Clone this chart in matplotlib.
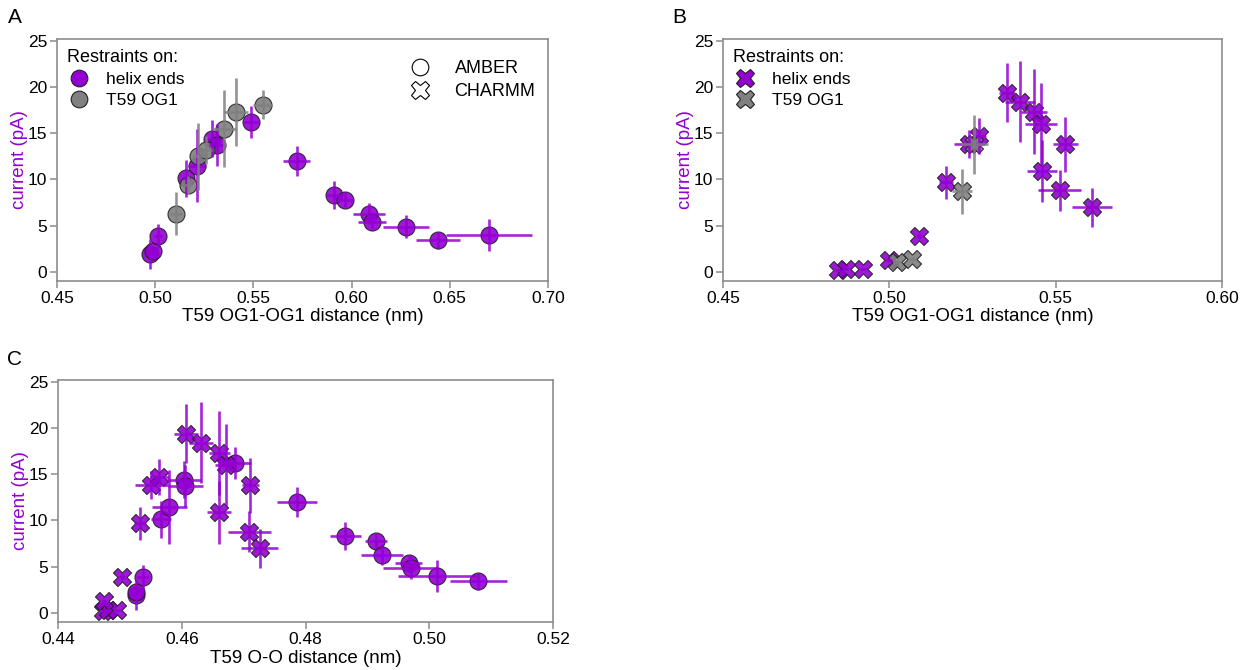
import matplotlib
matplotlib.use("Agg")
import matplotlib.pyplot as plt
from matplotlib.lines import Line2D

plt.rcParams['font.family'] = ['Liberation Sans', 'DejaVu Sans']
plt.rcParams['font.size'] = 12.5

roxo = '#9400d3'
cinza = '#808080'
eixo = '#8c8c8c'

# AMBER, restricoes nas pontas das helices
og_helix_amber = [0.4974, 0.4990, 0.5016, 0.5155, 0.5214, 0.5288, 0.5313, 0.5486,
                  0.5720, 0.5910, 0.5966, 0.6089, 0.6105, 0.6277, 0.6440, 0.6700]
og_helix_amber_err = [0.002, 0.002, 0.002, 0.002, 0.0046, 0.004, 0.004, 0.004,
                      0.007, 0.0042, 0.004, 0.008, 0.007, 0.0115, 0.011, 0.022]
oo_helix_amber = [0.4526, 0.4526, 0.4537, 0.4566, 0.4580, 0.4603, 0.4606, 0.4686,
                  0.4786, 0.4864, 0.4914, 0.4924, 0.4967, 0.4970, 0.5079, 0.5013]
oo_helix_amber_err = [0.001, 0.001, 0.001, 0.0016, 0.0028, 0.0028, 0.0028, 0.0026,
                      0.0032, 0.0025, 0.0018, 0.0034, 0.0022, 0.0044, 0.0046, 0.0063]
cur_helix_amber = [1.9, 2.2, 3.9, 10.1, 11.5, 14.4, 13.7, 16.2,
                   12.0, 8.3, 7.8, 6.3, 5.4, 4.9, 3.4, 4.0]
cur_helix_amber_err = [1.6, 0.5, 1.3, 2.0, 4.0, 2.0, 2.3, 1.7,
                       1.6, 1.5, 0.8, 1.1, 0.8, 1.2, 0.9, 1.7]

# AMBER, restricao no T59 OG1
og_t59_amber = [0.5106, 0.5165, 0.5216, 0.5259, 0.5350, 0.5410, 0.5547]
og_t59_amber_err = [0.003, 0.002, 0.003, 0.003, 0.006, 0.006, 0.0047]
cur_t59_amber = [6.3, 9.4, 12.5, 13.2, 15.5, 17.3, 18.1]
cur_t59_amber_err = [2.3, 1.0, 3.6, 1.5, 4.2, 3.7, 1.6]

# CHARMM, restricoes nas pontas das helices
og_helix_charmm = [0.4846, 0.4869, 0.4922, 0.4998, 0.5090, 0.5170, 0.5238, 0.5270,
                   0.5353, 0.5393, 0.5435, 0.5457, 0.5529, 0.5459, 0.5512, 0.5610]
og_helix_charmm_err = [0.001, 0.001, 0.001, 0.001, 0.001, 0.002, 0.0045, 0.002,
                       0.0024, 0.0045, 0.004, 0.0048, 0.0038, 0.0045, 0.0065, 0.006]
oo_helix_charmm = [0.4472, 0.4481, 0.4496, 0.4474, 0.4504, 0.4533, 0.4551, 0.4564,
                   0.4607, 0.4631, 0.4661, 0.4671, 0.4711, 0.4660, 0.4709, 0.4726]
oo_helix_charmm_err = [0.0005, 0.0005, 0.0005, 0.0005, 0.0005, 0.001, 0.0026, 0.0015,
                       0.002, 0.0019, 0.0017, 0.0017, 0.0014, 0.002, 0.0035, 0.003]
cur_helix_charmm = [0.2, 0.3, 0.3, 1.3, 3.9, 9.7, 13.8, 14.7,
                    19.4, 18.4, 17.3, 16.0, 13.8, 10.9, 8.8, 7.0]
cur_helix_charmm_err = [0.1, 0.1, 0.1, 0.2, 0.3, 1.8, 1.5, 1.9,
                        3.2, 4.4, 4.6, 4.4, 3.0, 3.4, 2.2, 2.1]

# CHARMM, restricao no T59 OG1
og_t59_charmm = [0.5022, 0.5069, 0.5219, 0.5256]
og_t59_charmm_err = [0.001, 0.001, 0.003, 0.004]
cur_t59_charmm = [1.1, 1.4, 8.7, 13.8]
cur_t59_charmm_err = [0.2, 0.2, 2.4, 3.2]


def pontos(ax, x, y, xerr, yerr, cor, marcador):
    ax.errorbar(x, y, xerr=xerr, yerr=yerr, fmt='none', ecolor=cor,
                elinewidth=1.9, capsize=0, alpha=0.85, zorder=3)
    ms = 150 if marcador == 'o' else 170
    ax.scatter(x, y, s=ms, marker=marcador, facecolors=cor, edgecolors='#222222',
               linewidths=0.8, alpha=0.9, zorder=2)


def estilo(ax, xlim, xticks, xlabel):
    ax.set_xlim(xlim)
    ax.set_xticks(xticks)
    ax.set_xticklabels(['%.2f' % t for t in xticks])
    ax.set_ylim(-1, 25.2)
    ax.set_yticks([0, 5, 10, 15, 20, 25])
    ax.set_xlabel(xlabel, fontsize=13.5, labelpad=2)
    ax.set_ylabel('current (pA)', color=roxo, fontsize=13.5, labelpad=0)
    for s in ax.spines.values():
        s.set_color(eixo)
        s.set_linewidth(1.2)
    ax.tick_params(direction='out', length=5, width=1.1, color=eixo, labelsize=12.5, pad=2)


fig = plt.figure(figsize=(12.5, 6.7), dpi=100)
axA = fig.add_axes([0.0456, 0.5806, 0.3928, 0.3612])
axB = fig.add_axes([0.5784, 0.5806, 0.3992, 0.3612])
axC = fig.add_axes([0.0464, 0.0716, 0.3960, 0.3612])

# A
pontos(axA, og_helix_amber, cur_helix_amber, og_helix_amber_err, cur_helix_amber_err, roxo, 'o')
pontos(axA, og_t59_amber, cur_t59_amber, og_t59_amber_err, cur_t59_amber_err, cinza, 'o')
estilo(axA, (0.45, 0.70), [0.45, 0.50, 0.55, 0.60, 0.65, 0.70], 'T59 OG1-OG1 distance (nm)')

# B
pontos(axB, og_helix_charmm, cur_helix_charmm, og_helix_charmm_err, cur_helix_charmm_err, roxo, 'X')
pontos(axB, og_t59_charmm, cur_t59_charmm, og_t59_charmm_err, cur_t59_charmm_err, cinza, 'X')
estilo(axB, (0.45, 0.60), [0.45, 0.50, 0.55, 0.60], 'T59 OG1-OG1 distance (nm)')

# C
pontos(axC, oo_helix_amber, cur_helix_amber, oo_helix_amber_err, cur_helix_amber_err, roxo, 'o')
pontos(axC, oo_helix_charmm, cur_helix_charmm, oo_helix_charmm_err, cur_helix_charmm_err, roxo, 'X')
estilo(axC, (0.44, 0.52), [0.44, 0.46, 0.48, 0.50, 0.52], 'T59 O-O distance (nm)')

# legendas
def leg_restricoes(ax, marcador):
    ms = 12 if marcador == 'o' else 13
    h = [Line2D([], [], ls='none', marker=marcador, ms=ms, mfc=roxo, mec='#222222', mew=0.8),
         Line2D([], [], ls='none', marker=marcador, ms=ms, mfc=cinza, mec='#222222', mew=0.8)]
    lg = ax.legend(h, ['helix ends', 'T59 OG1'], title='Restraints on:', loc='upper left',
                   frameon=False, fontsize=12.5, title_fontsize=13, alignment='left',
                   handlelength=1.4, handletextpad=0.85, borderaxespad=0.15,
                   labelspacing=0.35)
    return lg

lgA = leg_restricoes(axA, 'o')
axA.add_artist(lgA)
hff = [Line2D([], [], ls='none', marker='o', ms=12, mfc='white', mec='black', mew=0.8),
       Line2D([], [], ls='none', marker='X', ms=13, mfc='white', mec='black', mew=0.8)]
axA.legend(hff, ['AMBER', 'CHARMM'], loc='upper left', bbox_to_anchor=(0.67, 0.98),
           frameon=False, fontsize=13, handletextpad=0.9, labelspacing=0.35)
leg_restricoes(axB, 'X')

fig.text(0.006, 0.965, 'A', fontsize=15)
fig.text(0.538, 0.965, 'B', fontsize=15)
fig.text(0.006, 0.455, 'C', fontsize=15)

fig.savefig('out.png', dpi=100)
